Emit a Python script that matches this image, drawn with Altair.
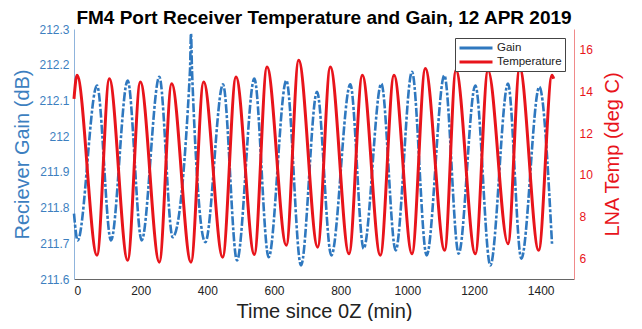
import altair as alt
import pandas as pd

# Temperature extremes (minutes, deg C)
temp_time = [0, 9, 69, 106, 161, 199, 256, 293, 351, 389, 446, 486, 541, 579, 637, 674,
             731, 769, 825, 865, 919, 960, 1014, 1054, 1112, 1146, 1204, 1242, 1302, 1337,
             1394, 1434, 1439]
temp_vals = [13.65, 14.78, 6.14, 14.61, 5.90, 14.46, 5.81, 14.37, 5.81, 14.46, 6.05, 14.70,
             6.18, 15.18, 6.62, 15.50, 6.53, 15.18, 6.21, 14.78, 6.14, 14.78, 6.21, 15.10,
             6.38, 15.02, 6.21, 15.02, 6.69, 15.14, 6.38, 14.78, 14.61]

# Gain extremes (minutes, dB)
gain_time = [0, 11, 69, 111, 161, 203, 256, 296, 348, 351, 354, 394, 447, 489, 541, 584,
             637, 681, 729, 772, 829, 869, 922, 965, 1014, 1058, 1111, 1154, 1204, 1249,
             1302, 1342, 1396, 1434]
gain_vals = [211.783, 211.708, 212.142, 211.708, 212.156, 211.708, 212.166, 211.717,
             212.184, 212.287, 212.184, 211.703, 212.145, 211.652, 212.161, 211.661,
             212.156, 211.638, 212.124, 211.666, 212.145, 211.685, 212.147, 211.680,
             212.180, 211.666, 212.170, 211.671, 212.142, 211.638, 212.147, 211.657,
             212.138, 211.699]

series_names = ["Gain", "Temperature"]
series_colors = ["#2f78bf", "#e8141b"]
x_ticks = [0, 200, 400, 600, 800, 1000, 1200, 1400]
gain_ticks = [211.6, 211.7, 211.8, 211.9, 212.0, 212.1, 212.2, 212.3]
temp_ticks = [6, 8, 10, 12, 14, 16]

gain_df = pd.DataFrame({"t": gain_time, "v": gain_vals, "series": series_names[0]})
temp_df = pd.DataFrame({"t": temp_time, "v": temp_vals, "series": series_names[1]})

FONT = "Liberation Sans"

x_enc = alt.X(
    "t:Q",
    scale=alt.Scale(domain=[0, 1500], nice=False),
    axis=alt.Axis(values=x_ticks, format="d", title="Time since 0Z (min)", titleFontSize=20,
                  titleFontWeight="normal", titleColor="#222", labelColor="#222",
                  labelFontSize=12, domainColor="#666", ticks=False, labelPadding=6,
                  titlePadding=5, grid=False),
)

color_enc = alt.Color(
    "series:N",
    scale=alt.Scale(domain=series_names, range=series_colors),
    legend=alt.Legend(title=None, orient="top-right", offset=9, strokeColor="#444",
                      fillColor="white", padding=3, labelFontSize=11.5, labelColor="#222",
                      symbolType="M-3,0H3", symbolStrokeWidth=3, symbolSize=121,
                      symbolOffset=11, labelOffset=14, rowPadding=1,
                      symbolDash=[1, 0]),
)

gain = alt.Chart(gain_df).mark_line(
    interpolate="monotone", strokeWidth=2.6, strokeDash=[9, 2, 3, 2]
).encode(
    x=x_enc,
    y=alt.Y("v:Q", scale=alt.Scale(domain=[211.6, 212.3], nice=False, zero=False),
            axis=alt.Axis(values=gain_ticks, format=".1~f", orient="left",
                          title="Reciever Gain (dB)", titleFontSize=20,
                          titleFontWeight="normal", titleColor="#3d7fc0",
                          labelColor="#3d7fc0", labelFontSize=12, domainColor="#8fb4dc",
                          ticks=False, labelPadding=5, titlePadding=6, grid=False)),
    color=color_enc,
)

temp = alt.Chart(temp_df).mark_line(
    interpolate="monotone", strokeWidth=3
).encode(
    x=x_enc,
    y=alt.Y("v:Q", scale=alt.Scale(domain=[5, 17], nice=False, zero=False),
            axis=alt.Axis(values=temp_ticks, orient="right",
                          title="LNA Temp (deg C)", titleFontSize=20, titleAngle=270,
                          titleBaseline="top",
                          titleFontWeight="normal", titleColor="#e8141b",
                          labelColor="#e8141b", labelFontSize=12, domainColor="#f08a8a",
                          ticks=False, labelPadding=5, titlePadding=10, grid=False)),
    color=color_enc,
)

chart = alt.layer(gain, temp).resolve_scale(y="independent").properties(
    width=500, height=250,
    title=alt.TitleParams("FM4 Port Receiver Temperature and Gain, 12 APR 2019",
                          fontSize=19, fontWeight="bold", color="#000", anchor="middle",
                          offset=-5),
    padding={"left": 4, "top": 1, "right": 5, "bottom": 0},
).configure(font=FONT).configure_view(stroke=None)

chart.save("out.html", embed_options={"renderer": "svg", "actions": False})
